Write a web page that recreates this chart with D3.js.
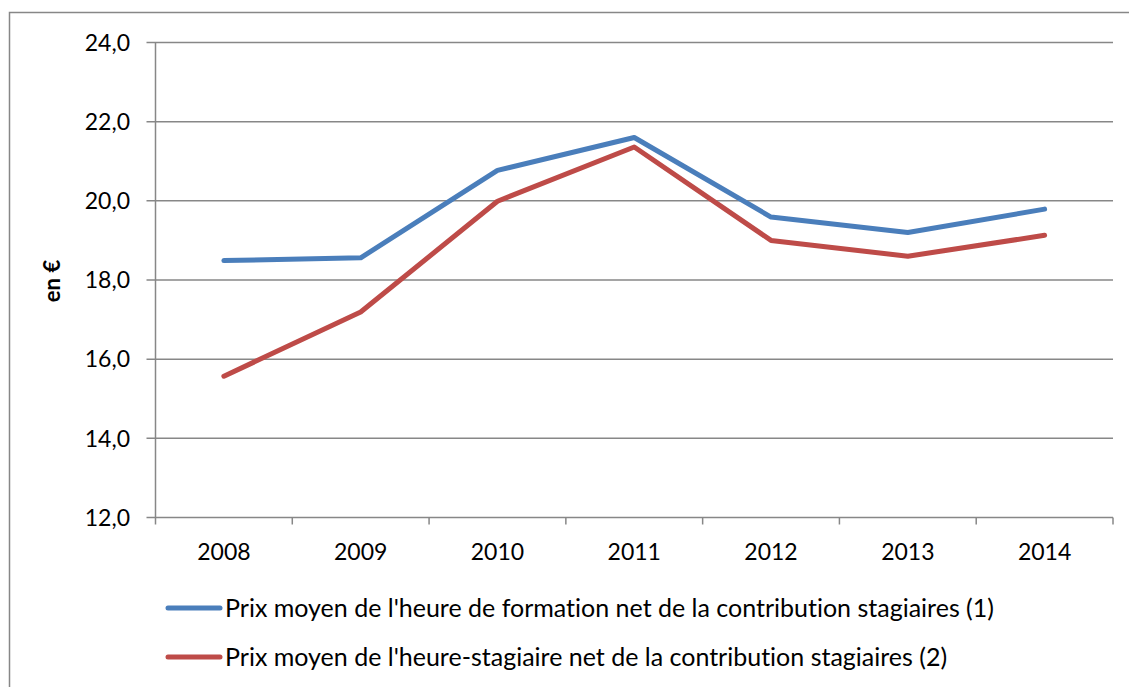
<!DOCTYPE html>
<html>
<head>
<meta charset="utf-8">
<script src="https://cdn.jsdelivr.net/npm/d3@7"></script>
<style>
  body { margin: 0; background: #fff; }
  text { font-family: Lato, "Open Sans", sans-serif; fill: #000; font-variant-ligatures: none; }
</style>
</head>
<body>
<svg id="chart" width="1129" height="687"></svg>
<script>
// data
const years = ["2008", "2009", "2010", "2011", "2012", "2013", "2014"];
const prixFormation = [18.49, 18.56, 20.77, 21.60, 19.59, 19.20, 19.79];
const prixStagiaire = [15.57, 17.19, 19.99, 21.36, 19.00, 18.60, 19.13];
const yTicks = [12, 14, 16, 18, 20, 22, 24];
const seriesNames = [
  "Prix moyen de l'heure de formation net de la contribution stagiaires (1)",
  "Prix moyen de l'heure-stagiaire net de la contribution stagiaires (2)"
];
const colors = ["#4a7ebb", "#be4b48"];

const svg = d3.select("#chart");
const plotL = 155.5, plotR = 1113, plotT = 42.5, plotB = 517.5;

// outer frame
svg.append("rect")
  .attr("x", 9.5).attr("y", 12.5)
  .attr("width", 1140).attr("height", 700)
  .attr("fill", "none").attr("stroke", "#878787").attr("stroke-width", 1.5);

const x = d3.scaleBand().domain(years).range([plotL, plotR]);
const y = d3.scaleLinear().domain([12, 24]).range([plotB, plotT]);

// gridlines
svg.append("g").selectAll("line")
  .data(yTicks).enter()
  .append("line")
  .attr("x1", plotL - 9).attr("x2", plotR)
  .attr("y1", d => y(d)).attr("y2", d => y(d))
  .attr("stroke", "#878787").attr("stroke-width", 1.5);

// y axis line
svg.append("line")
  .attr("x1", plotL).attr("x2", plotL)
  .attr("y1", plotT).attr("y2", plotB + 7)
  .attr("stroke", "#878787").attr("stroke-width", 1.5);

// x ticks
const xTickPos = years.map(d => x(d)).concat([plotR]);
svg.append("g").selectAll("line")
  .data(xTickPos.slice(1)).enter()
  .append("line")
  .attr("x1", d => d).attr("x2", d => d)
  .attr("y1", plotB).attr("y2", plotB + 7)
  .attr("stroke", "#878787").attr("stroke-width", 1.5);

// y labels
svg.append("g").selectAll("text")
  .data(yTicks).enter()
  .append("text")
  .attr("x", 130).attr("y", d => y(d))
  .attr("dy", "0.36em")
  .attr("text-anchor", "end")
  .style("font-size", "23px")
  .text(d => d3.format(".1f")(d).replace(".", ","));

// x labels
svg.append("g").selectAll("text")
  .data(years).enter()
  .append("text")
  .attr("x", d => x(d) + x.bandwidth() / 2)
  .attr("y", 552)
  .attr("dy", "0.36em")
  .attr("text-anchor", "middle")
  .style("font-size", "23px")
  .text(d => d);

// axis title
svg.append("text")
  .attr("transform", "translate(52,281) rotate(-90)")
  .attr("text-anchor", "middle")
  .attr("dy", "0.36em")
  .style("font-size", "22px")
  .style("font-weight", "bold")
  .text("en €");

// lines
const line = d3.line()
  .x((d, i) => x(years[i]) + x.bandwidth() / 2)
  .y(d => y(d));

[prixFormation, prixStagiaire].forEach((s, k) => {
  svg.append("path")
    .datum(s)
    .attr("d", line)
    .attr("fill", "none")
    .attr("stroke", colors[k])
    .attr("stroke-width", 5)
    .attr("stroke-linecap", "round")
    .attr("stroke-linejoin", "round");
});

// legend
const legendY = [608, 657];
seriesNames.forEach((name, k) => {
  const g = svg.append("g");
  g.append("line")
    .attr("x1", 168).attr("x2", 220)
    .attr("y1", legendY[k]).attr("y2", legendY[k])
    .attr("stroke", colors[k]).attr("stroke-width", 5)
    .attr("stroke-linecap", "round");
  g.append("text")
    .attr("x", 225).attr("y", legendY[k])
    .attr("dy", "0.36em")
    .style("font-size", "25px")
    .text(name);
});
</script>
</body>
</html>
